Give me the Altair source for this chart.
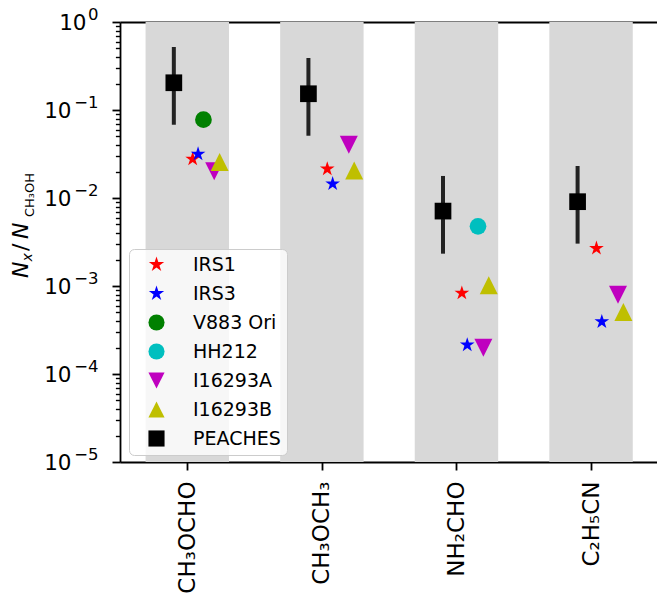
import math
import altair as alt
import pandas as pd

# ---------------- data ----------------
molecules = ["CH₃OCHO", "CH₃OCH₃", "NH₂CHO", "C₂H₅CN"]
series = ["IRS1", "IRS3", "V883 Ori", "HH212", "I16293A", "I16293B", "PEACHES"]
offsets = [0.04, 0.08, 0.12, 0.16, 0.20, 0.24, -0.10]

irs1 = [0.0277, 0.0214, 8.3e-4, 2.68e-3]
irs3 = [0.0316, 0.0145, 2.14e-4, 3.93e-4]
v883 = [0.0776, None, None, None]
hh212 = [None, None, 4.77e-3, None]
i16293a = [0.0201, 0.0403, 1.99e-4, 7.96e-4]
i16293b = [0.0257, 0.0205, 1.02e-3, 5.07e-4]
peaches = [0.204, 0.153, 7.1e-3, 9.08e-3]
peaches_lo = [0.068, 0.051, 2.33e-3, 3.03e-3]
peaches_hi = [0.52, 0.39, 0.0178, 0.0231]

band_half = 0.31
y_min, y_max = 1e-5, 1.0
exponents = ["−5", "−4", "−3", "−2", "−1", "0"]

# ---------------- styles ----------------
def star_path(inner=0.382):
    pts_ = []
    for k in range(10):
        r = 1.0 if k % 2 == 0 else inner
        a = math.radians(-90 + 36 * k)
        pts_.append(f"{r * math.cos(a):.4f},{r * math.sin(a):.4f}")
    return "M" + "L".join(pts_) + "Z"

STAR = star_path()
TRI_DOWN = "M0,1L-1,-1L1,-1Z"
TRI_UP = "M0,-1L1,1L-1,1Z"
colors = ["#ff0000", "#0000ff", "#008000", "#00bfbf", "#bf00bf", "#bfbf00", "#000000"]
shapes = [STAR, STAR, "circle", "circle", TRI_DOWN, TRI_UP, "square"]
sizes = [239, 239, 279, 279, 324, 324, 279]
FONT = "DejaVu Sans"

# ---------------- tables ----------------
value_lists = [irs1, irs3, v883, hh212, i16293a, i16293b, peaches]
rows = []
for name, vals, off, sz in zip(series, value_lists, offsets, sizes):
    for i, v in enumerate(vals):
        if v is not None:
            rows.append({"series": name, "xpos": i + off, "val": v, "sz": sz})
pts = pd.DataFrame(rows)

err = pd.DataFrame({
    "xpos": [i + offsets[-1] for i in range(len(molecules))],
    "lo": peaches_lo,
    "hi": peaches_hi,
})

bands = pd.DataFrame({
    "x0": [i - band_half for i in range(len(molecules))],
    "x1": [i + band_half for i in range(len(molecules))],
    "y0": [y_min] * len(molecules),
    "y1": [y_max] * len(molecules),
})

xscale = alt.Scale(domain=[-0.5, 3.49], nice=False, zero=False)
yscale = alt.Scale(type="log", domain=[y_min, y_max], nice=False)

idx_expr = "round(log(datum.value)/LN10)+5"
exp_expr = "[" + ",".join("'" + s + "'" for s in exponents) + "][" + idx_expr + "]"
mol_expr = "[" + ",".join("'" + s + "'" for s in molecules) + "][round(datum.value)]"
minor_vals = [k * 10.0 ** d for d in range(-5, 0) for k in range(2, 10)]
major_vals = [10.0 ** d for d in range(-5, 1)]

# grey bands + top spine + minor ticks
band_layer = alt.Chart(bands).mark_rect(color="#d8d8d8").encode(
    x=alt.X("x0:Q", scale=xscale,
            axis=alt.Axis(orient="top", ticks=False, labels=False, domain=True,
                          grid=False, title=None, domainColor="black", domainWidth=1.8)),
    x2="x1:Q",
    y=alt.Y("y0:Q", scale=yscale,
            axis=alt.Axis(orient="left", values=minor_vals, labels=False, domain=False,
                          grid=False, title=None, tickSize=4.6, tickWidth=1.4,
                          tickColor="black")),
    y2="y1:Q",
)

# error bars + exponent part of the y tick labels
err_layer = alt.Chart(err).mark_rule(color="#222222", strokeWidth=4).encode(
    x=alt.X("xpos:Q", scale=xscale, axis=None),
    y=alt.Y("lo:Q", scale=yscale,
            axis=alt.Axis(orient="left", values=major_vals, labelExpr=exp_expr,
                          labelFontSize=16.5, labelFont=FONT, labelColor="black",
                          ticks=True, tickSize=8, tickOpacity=0, domain=False,
                          labelPadding=14, labelOffset=-8, labelBaseline="middle",
                          grid=False, title=None)),
    y2="hi:Q",
)

pt_layer = alt.Chart(pts).mark_point(filled=True, opacity=1).encode(
    x=alt.X("xpos:Q", scale=xscale,
            axis=alt.Axis(orient="bottom", values=[0, 1, 2, 3], labelExpr=mol_expr,
                          labelAngle=270, labelFontSize=23, labelFont=FONT,
                          labelColor="black", tickSize=8, tickWidth=1.8,
                          tickColor="black", domainColor="black", domainWidth=1.8,
                          labelPadding=11, grid=False, title=None)),
    y=alt.Y("val:Q", scale=yscale,
            axis=alt.Axis(orient="left", values=major_vals, labelExpr="'10'",
                          labelFontSize=21.5, labelFont=FONT, labelColor="black",
                          tickSize=8, tickWidth=1.8, tickColor="black",
                          domainColor="black", domainWidth=1.8,
                          labelPadding={"condition": {"test": "datum.value >= 1", "value": 26},
                                        "value": 41},
                          labelBaseline="middle", labelOffset=1,
                          grid=False, title=None)),
    color=alt.Color("series:N", scale=alt.Scale(domain=series, range=colors),
                    legend=alt.Legend(title=None, orient="none", legendX=9, legendY=227,
                                      padding=6, fillColor="rgba(255,255,255,0.8)",
                                      strokeColor="#cccccc", cornerRadius=5,
                                      labelFontSize=19, labelFont=FONT, labelColor="black",
                                      rowPadding=9, symbolOffset=12, labelOffset=27,
                                      symbolSize=260)),
    shape=alt.Shape("series:N", scale=alt.Scale(domain=series, range=shapes)),
    size=alt.Size("sz:Q", scale=None),
)

# y-axis title  N_x / N_{CH3OH}, built from pieces (x, y relative to plot origin)
def label_piece(text, x, y, size, italic):
    kw = dict(align="left", baseline="alphabetic", angle=270, fontSize=size,
              font=FONT, color="black")
    if italic:
        kw["fontStyle"] = "italic"
    return alt.Chart(pd.DataFrame({"t": [text]})).mark_text(**kw).encode(
        text="t:N", x=alt.value(x), y=alt.value(y))

title_layers = [
    label_piece("N", -92, 256, 22, True),
    label_piece("x", -88, 239.5, 14, True),
    label_piece("/", -92, 229, 22, False),
    label_piece("N", -92, 217, 22, True),
    label_piece("CH₃OH", -86, 195, 13, False),
]

chart = alt.layer(band_layer, err_layer, pt_layer, *title_layers).resolve_axis(
    x="independent", y="independent"
).properties(
    width=537, height=440,
    autosize=alt.AutoSizeParams(type="none"),
    padding={"left": 120, "top": 22, "right": 0, "bottom": 139},
).configure_view(stroke=None)

chart.save("out.html", embed_options={"renderer": "svg", "actions": False})
